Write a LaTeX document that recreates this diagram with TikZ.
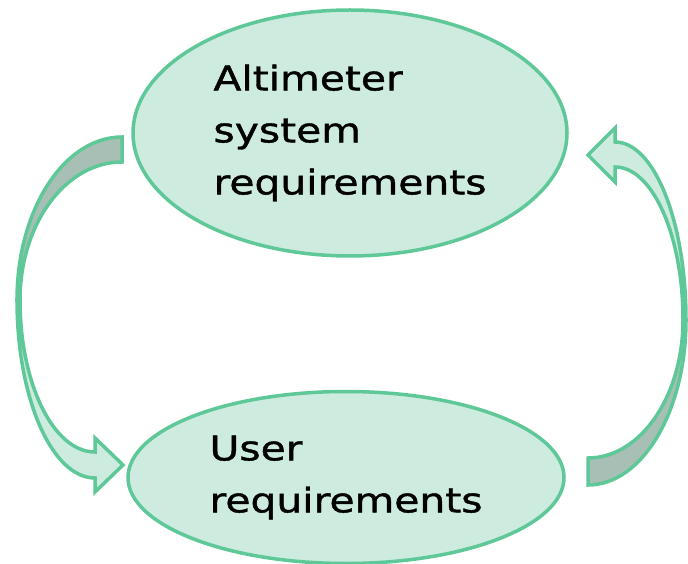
\documentclass[tikz,border=0pt]{standalone}
\usepackage{fontspec}
\newfontfamily\reqfont{DejaVu Sans}[FakeStretch=1.2, FakeBold=1.2]
\usetikzlibrary{shapes.geometric, positioning}
\definecolor{mline}{HTML}{5EC898}
\definecolor{mfill}{HTML}{CDEBDE}
\definecolor{mshade}{HTML}{A7BFB4}
\tikzstyle{req} = [ellipse, draw = mline, line width = 3.5pt, fill = mfill, inner sep = 0pt, align = left, font = \reqfont\fontsize{34}{52}\selectfont]
\tikzstyle{loopfront} = [draw = mline, line width = 3.5pt, fill = mfill]
\tikzstyle{loopback} = [draw = mline, line width = 3.5pt, fill = mshade]

\begin{document}
\begin{tikzpicture}[x=1pt, y=1pt]
  \useasboundingbox (0,0) rectangle (688,563);
  % curved arrow on the left, top down
  \draw [loopback] (122,426) arc[start angle=90, end angle=180, x radius=105, y radius=163]
    -- (20,263) arc[start angle=180, end angle=90, x radius=102, y radius=138] -- cycle;
  \draw [loopfront] (17,263) arc[start angle=180, end angle=270, x radius=78, y radius=178]
    -- (95,71) -- (123,98) -- (95,125) -- (95,111)
    arc[start angle=270, end angle=180, x radius=75, y radius=152] -- cycle;
  % curved arrow on the right, bottom up
  \draw [loopback] (686,243) arc[start angle=0, end angle=-90, x radius=98, y radius=165]
    -- (588,105) arc[start angle=-90, end angle=0, x radius=95, y radius=138] -- cycle;
  \draw [loopfront] (615,421) arc[start angle=90, end angle=0, x radius=71, y radius=178]
    -- (683,243) arc[start angle=0, end angle=90, x radius=68, y radius=153]
    -- (615,381) -- (588,408) -- (615,435) -- cycle;
  % the two requirement sets
  \node (altreq) [req, minimum width=434pt, minimum height=246pt] at (350,430) {Altimeter\\system\\requirements};
  \node (userreq) [req, minimum width=436pt, minimum height=172pt, below=132pt of altreq, xshift=-4pt] {User\\requirements};
\end{tikzpicture}
\end{document}
